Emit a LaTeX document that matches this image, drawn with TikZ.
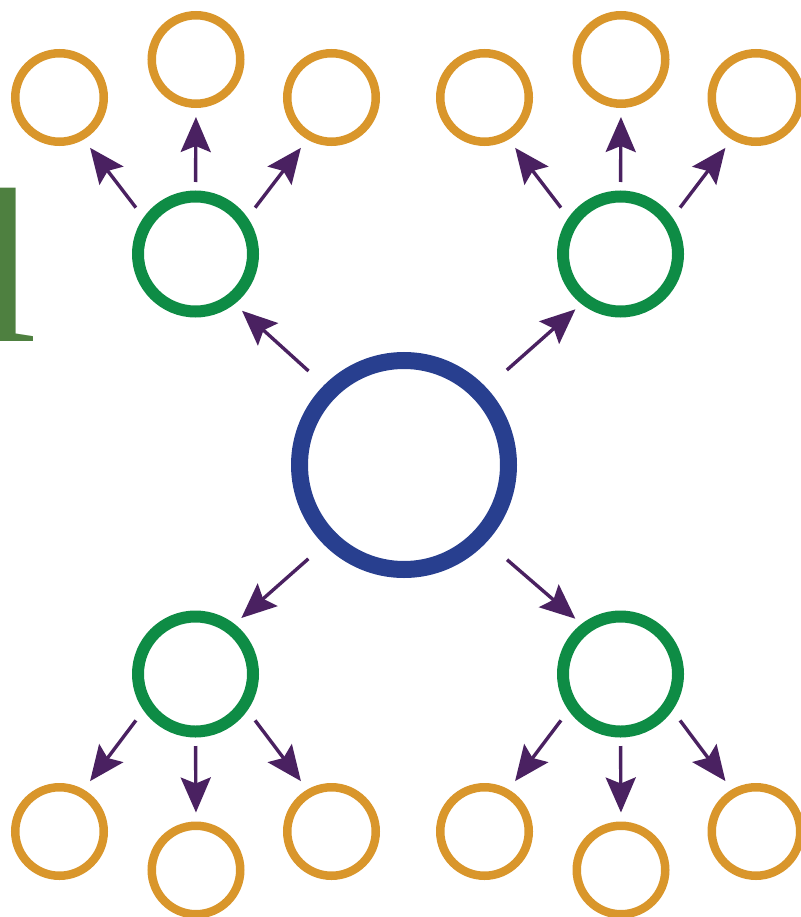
\documentclass[tikz,border=0pt]{standalone}
\usepackage{fontspec}
\usetikzlibrary{arrows.meta}
\newfontfamily\glyphfont{Liberation Serif}

\definecolor{ringorange}{HTML}{D9962B}
\definecolor{ringgreen}{HTML}{0E8C45}
\definecolor{ringblue}{HTML}{283F8F}
\definecolor{arrowpurple}{HTML}{4A2161}
\definecolor{lettergreen}{HTML}{4E8040}

\tikzset{
  hubring/.style={circle, draw=ringblue, line width=17pt, minimum size=209pt, inner sep=0pt},
  midring/.style={circle, draw=ringgreen, line width=12pt, minimum size=115pt, inner sep=0pt},
  leafring/.style={circle, draw=ringorange, line width=8.5pt, minimum size=88.5pt, inner sep=0pt},
  link/.style={draw=arrowpurple, line width=3.4pt,
    -{Stealth[length=35pt, width=30pt, inset=6pt]}},
  sidelink/.style={link, shorten <=12.5pt, shorten >=10.5pt},
  straightlink/.style={link, shorten <=8.5pt, shorten >=9pt}
}

\begin{document}
\begin{tikzpicture}[x=1pt, y=-1pt]
  \useasboundingbox (0,0) rectangle (800,917);

  % large letter cut by the left edge
  \node[anchor=base west, inner sep=0pt, outer sep=0pt, text=lettergreen,
        font=\glyphfont\fontsize{221}{221}\selectfont] (glyph) at (-23,341) {l};

  % centre ring
  \node[hubring] (hub) at (404,465) {};

  % second level
  \node[midring] (gtl) at (195.5,254) {};
  \node[midring] (gtr) at (620.5,254) {};
  \node[midring] (gbl) at (195.5,674) {};
  \node[midring] (gbr) at (620.5,674) {};

  % outer rings, top groups
  \node[leafring] (o1l) at (59.5,97.5) {};
  \node[leafring] (o1m) at (196,59.5) {};
  \node[leafring] (o1r) at (331.5,97.5) {};
  \node[leafring] (o2l) at (484.5,97.5) {};
  \node[leafring] (o2m) at (621,59.5) {};
  \node[leafring] (o2r) at (756,97.5) {};

  % outer rings, bottom groups
  \node[leafring] (o3l) at (59.5,831.5) {};
  \node[leafring] (o3m) at (196,870) {};
  \node[leafring] (o3r) at (331.5,831.5) {};
  \node[leafring] (o4l) at (484.5,831.5) {};
  \node[leafring] (o4m) at (621,870) {};
  \node[leafring] (o4r) at (756,831.5) {};

  % centre to second level
  \draw[link, shorten <=21pt, shorten >=10pt] (hub.135) -- (gtl.-52);
  \draw[link, shorten <=27pt, shorten >=8pt] (hub.43) -- (gtr.232);
  \draw[link, shorten <=21pt, shorten >=9pt] (hub.225) -- (gbl.52);
  \draw[link, shorten <=27pt, shorten >=8pt] (hub.-43) -- (gbr.128);

  % second level to outer rings, top
  \draw[sidelink] (gtl.145) -- (o1l.-60);
  \draw[straightlink] (gtl.90) -- (o1m.-90);
  \draw[sidelink] (gtl.35) -- (o1r.240);
  \draw[sidelink] (gtr.145) -- (o2l.-60);
  \draw[straightlink] (gtr.90) -- (o2m.-90);
  \draw[sidelink] (gtr.35) -- (o2r.240);

  % second level to outer rings, bottom
  \draw[sidelink] (gbl.215) -- (o3l.60);
  \draw[straightlink] (gbl.-90) -- (o3m.90);
  \draw[sidelink] (gbl.-35) -- (o3r.120);
  \draw[sidelink] (gbr.215) -- (o4l.60);
  \draw[straightlink] (gbr.-90) -- (o4m.90);
  \draw[sidelink] (gbr.-35) -- (o4r.120);
\end{tikzpicture}
\end{document}
